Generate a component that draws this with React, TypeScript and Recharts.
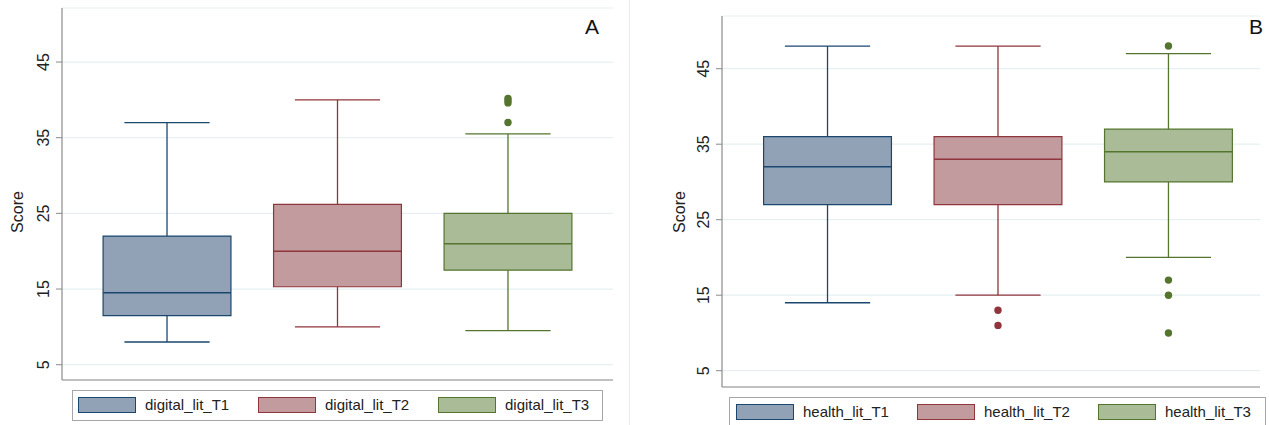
import {
  ComposedChart,
  XAxis,
  YAxis,
  CartesianGrid,
  ReferenceArea,
  ReferenceLine,
  Scatter,
} from 'recharts';

// panel A: digital literacy
const digitalCategories = ['digital_lit_T1', 'digital_lit_T2', 'digital_lit_T3'];
const digitalMin = [8, 10, 9.5];
const digitalQ1 = [11.5, 15.3, 17.5];
const digitalMedian = [14.5, 20, 21];
const digitalQ3 = [22, 26.2, 25];
const digitalMax = [37, 40, 35.5];
const digitalOutliers = [[], [], [37, 39.6, 39.9, 40.2]];

// panel B: health literacy
const healthCategories = ['health_lit_T1', 'health_lit_T2', 'health_lit_T3'];
const healthMin = [14, 15, 20];
const healthQ1 = [27, 27, 30];
const healthMedian = [32, 33, 34];
const healthQ3 = [36, 36, 37];
const healthMax = [48, 48, 47];
const healthOutliers = [[], [13, 11], [48, 17, 15, 10]];

const yTicks = [5, 15, 25, 35, 45];

const fills = ['#91a2b6', '#c19b9e', '#aabb98'];
const strokes = ['#1a476f', '#90353b', '#55752f'];

const FONT = '"Liberation Sans", Arial, Helvetica, sans-serif';
const BOX_HALF = 0.375;
const CAP_HALF = 0.25;

interface PanelProps {
  width: number;
  margin: { top: number; right: number; bottom: number; left: number };
  xDomain: [number, number];
  yDomain: [number, number];
  mins: number[];
  q1s: number[];
  medians: number[];
  q3s: number[];
  maxs: number[];
  outliers: number[][];
  tag: string;
  tagX: number;
  titleX: number;
}

function YTick({ x, y, payload }: any) {
  return (
    <text
      x={x - 5}
      y={y}
      transform={`rotate(-90 ${x - 5} ${y})`}
      textAnchor="middle"
      fontSize={16}
      fontFamily={FONT}
      fill="#222"
    >
      {payload.value}
    </text>
  );
}

function BoxPanel(p: PanelProps) {
  const stroke = { strokeWidth: 1.3 };
  return (
    <ComposedChart width={p.width} height={425} margin={p.margin}>
      <CartesianGrid vertical={false} stroke="#e6eff1" strokeWidth={1.2} />
      <XAxis
        type="number"
        dataKey="x"
        domain={p.xDomain}
        allowDataOverflow
        tick={false}
        tickLine={false}
        height={1}
        axisLine={{ stroke: '#8a8a8a', strokeWidth: 1.2 }}
      />
      <YAxis
        type="number"
        dataKey="y"
        domain={p.yDomain}
        allowDataOverflow
        ticks={yTicks}
        width={62}
        tickSize={6}
        tick={<YTick />}
        tickLine={{ stroke: '#8a8a8a' }}
        axisLine={{ stroke: '#8a8a8a', strokeWidth: 1.2 }}
        label={{
          content: () => (
            <text
              x={p.titleX}
              y={212}
              transform={`rotate(-90 ${p.titleX} 212)`}
              textAnchor="middle"
              fontSize={16}
              fontFamily={FONT}
              fill="#222"
            >
              Score
            </text>
          ),
        }}
      />
      {p.q1s.map((q1, i) => (
        <ReferenceArea
          key={`box-${i}`}
          x1={i + 1 - BOX_HALF}
          x2={i + 1 + BOX_HALF}
          y1={q1}
          y2={p.q3s[i]}
          fill={fills[i]}
          fillOpacity={1}
          stroke={strokes[i]}
          strokeWidth={1.2}
        />
      ))}
      {p.q1s.map((q1, i) => [
        <ReferenceLine
          key={`lo-${i}`}
          segment={[{ x: i + 1, y: p.mins[i] }, { x: i + 1, y: q1 }]}
          stroke={strokes[i]}
          {...stroke}
        />,
        <ReferenceLine
          key={`hi-${i}`}
          segment={[{ x: i + 1, y: p.q3s[i] }, { x: i + 1, y: p.maxs[i] }]}
          stroke={strokes[i]}
          {...stroke}
        />,
        <ReferenceLine
          key={`locap-${i}`}
          segment={[{ x: i + 1 - CAP_HALF, y: p.mins[i] }, { x: i + 1 + CAP_HALF, y: p.mins[i] }]}
          stroke={strokes[i]}
          {...stroke}
        />,
        <ReferenceLine
          key={`hicap-${i}`}
          segment={[{ x: i + 1 - CAP_HALF, y: p.maxs[i] }, { x: i + 1 + CAP_HALF, y: p.maxs[i] }]}
          stroke={strokes[i]}
          {...stroke}
        />,
        <ReferenceLine
          key={`med-${i}`}
          segment={[{ x: i + 1 - BOX_HALF, y: p.medians[i] }, { x: i + 1 + BOX_HALF, y: p.medians[i] }]}
          stroke={strokes[i]}
          strokeWidth={1.5}
        />,
      ])}
      {p.outliers.map((vals, i) => (
        <Scatter
          key={`out-${i}`}
          data={vals.map((v) => ({ x: i + 1, y: v }))}
          isAnimationActive={false}
          shape={(s: any) => <circle cx={s.cx} cy={s.cy} r={3.7} fill={strokes[i]} />}
        />
      ))}
      <text x={p.tagX} y={34} textAnchor="middle" fontSize={21} fontFamily={FONT} fill="#111">
        {p.tag}
      </text>
    </ComposedChart>
  );
}

function LegendBox({
  left,
  top,
  width,
  height,
  pad,
  step,
  labels,
}: {
  left: number;
  top: number;
  width: number;
  height: number;
  pad: number;
  step: number;
  labels: string[];
}) {
  return (
    <div
      style={{
        position: 'absolute',
        left,
        top,
        width,
        height,
        border: '1px solid #a6a6a6',
        boxSizing: 'border-box',
      }}
    >
      {labels.map((label, i) => (
        <div
          key={label}
          style={{
            position: 'absolute',
            left: pad + i * step,
            top: 5,
            display: 'flex',
            alignItems: 'center',
            fontFamily: FONT,
            fontSize: 15,
            color: '#222',
            whiteSpace: 'nowrap',
          }}
        >
          <div
            style={{
              width: 58,
              height: 16,
              background: fills[i],
              border: `1.5px solid ${strokes[i]}`,
              boxSizing: 'border-box',
              marginRight: 9,
            }}
          />
          <span>{label}</span>
        </div>
      ))}
    </div>
  );
}

export default function App() {
  return (
    <div
      style={{
        position: 'fixed',
        left: 0,
        top: 0,
        width: 1269,
        height: 425,
        background: '#fff',
        overflow: 'hidden',
      }}
    >
      <div style={{ position: 'absolute', left: 0, top: 0 }}>
        <BoxPanel
          width={620}
          margin={{ top: 8, right: 7, bottom: 44, left: 0 }}
          xDomain={[0.384, 3.616]}
          yDomain={[2.98, 52.14]}
          mins={digitalMin}
          q1s={digitalQ1}
          medians={digitalMedian}
          q3s={digitalQ3}
          maxs={digitalMax}
          outliers={digitalOutliers}
          tag="A"
          tagX={592}
          titleX={23}
        />
      </div>
      <div
        style={{
          position: 'absolute',
          left: 629,
          top: 0,
          width: 1,
          height: 425,
          background: '#ececec',
        }}
      />
      <div style={{ position: 'absolute', left: 660, top: 0 }}>
        <BoxPanel
          width={609}
          margin={{ top: 16, right: 9, bottom: 37, left: 0 }}
          xDomain={[0.381, 3.537]}
          yDomain={[2.84, 51.98]}
          mins={healthMin}
          q1s={healthQ1}
          medians={healthMedian}
          q3s={healthQ3}
          maxs={healthMax}
          outliers={healthOutliers}
          tag="B"
          tagX={596}
          titleX={25}
        />
      </div>
      <LegendBox left={72} top={390} width={531} height={31} pad={5} step={180} labels={digitalCategories} />
      <LegendBox left={729} top={397} width={537} height={32} pad={6} step={181} labels={healthCategories} />
    </div>
  );
}
